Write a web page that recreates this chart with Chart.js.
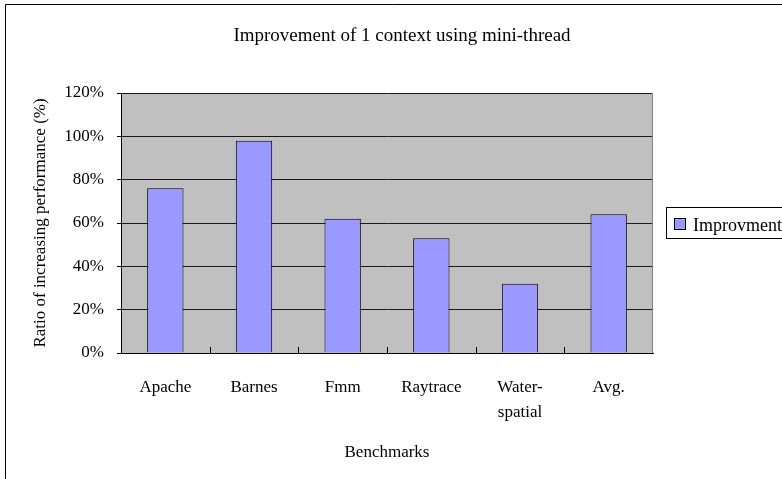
<!DOCTYPE html>
<html>
<head>
<meta charset="utf-8">
<script src="https://cdn.jsdelivr.net/npm/chart.js@4.4.1/dist/chart.umd.min.js"></script>
<style>
  html,body{margin:0;padding:0;background:#fff;}
  #wrap{width:782px;height:479px;position:relative;}
</style>
</head>
<body>
<div id="wrap"><canvas id="c" width="782" height="479"></canvas></div>
<script>
const chartTitle = 'Improvement of 1 context using mini-thread';
const categories = ['Apache', 'Barnes', 'Fmm', 'Raytrace', ['Water-', 'spatial'], 'Avg.'];
const seriesName = 'Improvment';
const improvement = [76, 98, 62, 53, 32, 64];
const yTicks = [0, 20, 40, 60, 80, 100, 120];
const xTitle = 'Benchmarks';
const yTitle = 'Ratio of increasing performance (%)';

const FONT = "'Liberation Serif', 'Times New Roman', serif";

const decor = {
  id: 'decor',
  beforeDraw(chart) {
    const {ctx, chartArea: a} = chart;
    ctx.save();
    ctx.fillStyle = '#fff';
    ctx.fillRect(0, 0, chart.width, chart.height);
    // outer frame
    ctx.strokeStyle = '#000';
    ctx.lineWidth = 1;
    ctx.beginPath();
    ctx.moveTo(5.5, chart.height);
    ctx.lineTo(5.5, 4.5);
    ctx.lineTo(chart.width, 4.5);
    ctx.stroke();
    // plot background
    ctx.fillStyle = '#C0C0C0';
    ctx.fillRect(a.left, a.top, a.right - a.left, a.bottom - a.top);
    // title
    ctx.fillStyle = '#000';
    ctx.font = '19px ' + FONT;
    ctx.textAlign = 'center';
    ctx.textBaseline = 'alphabetic';
    ctx.fillText(chartTitle, 402, 41);
    ctx.restore();
  },
  afterDatasetsDraw(chart) {
    const {ctx, chartArea: a, scales: {x}} = chart;
    ctx.save();
    // plot border right
    ctx.strokeStyle = '#808080';
    ctx.lineWidth = 1;
    ctx.beginPath();
    ctx.moveTo(Math.round(a.right) - 0.5, a.top);
    ctx.lineTo(Math.round(a.right) - 0.5, a.bottom);
    ctx.stroke();
    // inward tick marks on x axis between categories
    ctx.strokeStyle = '#000';
    const n = chart.data.labels.length;
    for (let i = 1; i < n; i++) {
      const px = Math.round((x.getPixelForValue(i - 1) + x.getPixelForValue(i)) / 2) + 0.5;
      ctx.beginPath();
      ctx.moveTo(px, a.bottom);
      ctx.lineTo(px, a.bottom - 6);
      ctx.stroke();
    }
    // legend
    const ds = chart.data.datasets[0];
    ctx.strokeStyle = '#000';
    ctx.strokeRect(666.5, 207.5, 140, 31);
    ctx.fillStyle = ds.backgroundColor;
    ctx.fillRect(674.5, 218.5, 11, 11);
    ctx.strokeRect(674.5, 218.5, 11, 11);
    ctx.fillStyle = '#000';
    ctx.font = '18px ' + FONT;
    ctx.textAlign = 'left';
    ctx.textBaseline = 'alphabetic';
    ctx.fillText(ds.label, 693, 231);
    ctx.restore();
  }
};

new Chart(document.getElementById('c'), {
  type: 'bar',
  data: {
    labels: categories,
    datasets: [{
      label: seriesName,
      data: improvement,
      backgroundColor: '#9999FF',
      borderColor: '#000',
      borderWidth: 1,
      barPercentage: 0.41,
      categoryPercentage: 1.0
    }]
  },
  options: {
    responsive: false,
    animation: false,
    devicePixelRatio: 1,
    layout: { padding: { left: 5, top: 93, right: 129, bottom: 0 } },
    plugins: { legend: { display: false }, title: { display: false }, tooltip: { enabled: false } },
    scales: {
      x: {
        afterFit(s) { s.height = 126; },
        grid: { display: false, drawTicks: false },
        border: { display: true, color: '#000', width: 1 },
        ticks: { color: '#000', font: { family: FONT, size: 17, lineHeight: 1.47 }, padding: 22, maxRotation: 0, autoSkip: false },
        title: { display: true, text: xTitle, color: '#000', font: { family: FONT, size: 17 }, padding: { top: 4, bottom: 16 } }
      },
      y: {
        min: 0, max: 120,
        afterFit(s) { s.width = 116; },
        afterBuildTicks(s) { s.ticks = yTicks.map(v => ({ value: v })); },
        grid: { color: '#1a1a1a', lineWidth: 1, drawTicks: true, tickLength: 4, tickColor: '#000' },
        border: { display: true, color: '#000', width: 1 },
        ticks: { color: '#000', font: { family: FONT, size: 17 }, padding: 13, callback: v => v + '%' },
        title: { display: true, text: yTitle, color: '#000', font: { family: FONT, size: 17 }, padding: { top: 25, bottom: 0 } }
      }
    }
  },
  plugins: [decor]
});
</script>
</body>
</html>
